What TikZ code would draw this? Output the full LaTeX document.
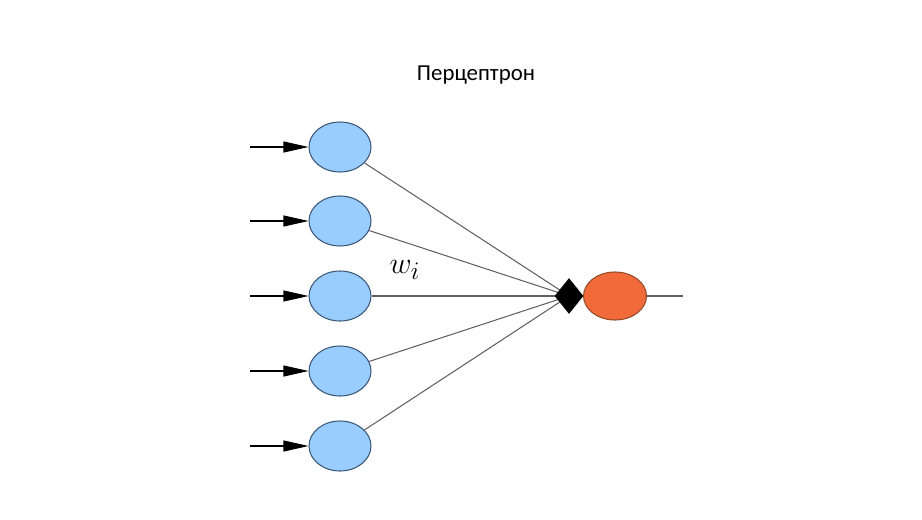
\documentclass[tikz,border=0pt]{standalone}
\usepackage{fontspec}
\setmainfont{Carlito}
\usetikzlibrary{arrows.meta}
\usetikzlibrary{shapes.geometric}
\usetikzlibrary{backgrounds}
\definecolor{inblue}{RGB}{153,204,255}
\definecolor{inedge}{RGB}{60,90,120}
\definecolor{outorange}{RGB}{242,106,58}
\definecolor{outedge}{RGB}{150,75,40}
\tikzset{
    inneuron/.style={ellipse,draw=inedge,fill=inblue,line width=0.6pt,minimum width=1.24cm,minimum height=1.0cm,inner sep=0pt},
    outneuron/.style={ellipse,draw=outedge,fill=outorange,line width=0.6pt,minimum width=1.26cm,minimum height=0.96cm,inner sep=0pt},
    sumnode/.style={diamond,fill=black,inner sep=0pt,minimum width=0.58cm,minimum height=0.72cm},
    weight/.style={draw=black!62,line width=0.6pt},
    inarrow/.style={-{Triangle[length=0.5cm,width=0.22cm]},line width=0.6pt}
}
\begin{document}
\begin{tikzpicture}
                \useasboundingbox (0,0) rectangle (18.44,10.38);

                \node (title) at (9.52,8.88) {\fontsize{13}{15}\selectfont Перцептрон};

                \node[sumnode] (sum) at (11.38,4.46) {};
                \node[outneuron] (out) at (12.3,4.46) {};
                \coordinate (end) at (13.66,4.46);

                \foreach \i/\y in {1/7.44,2/5.96,3/4.46,4/2.96,5/1.46}{
                    \node[inneuron] (x\i) at (6.8,\y) {};
                    \coordinate (s\i) at (5.0,\y);
                    \draw[inarrow] (s\i) -- (x\i);
                    \begin{scope}[on background layer]
                        \draw[weight] (x\i) -- (sum.center);
                    \end{scope}
                }

                \draw[weight] (out) -- (end);

                \node (w) at (8.1,4.98) {\fontsize{19}{22}\selectfont $w_i$};
            \end{tikzpicture}
\end{document}
